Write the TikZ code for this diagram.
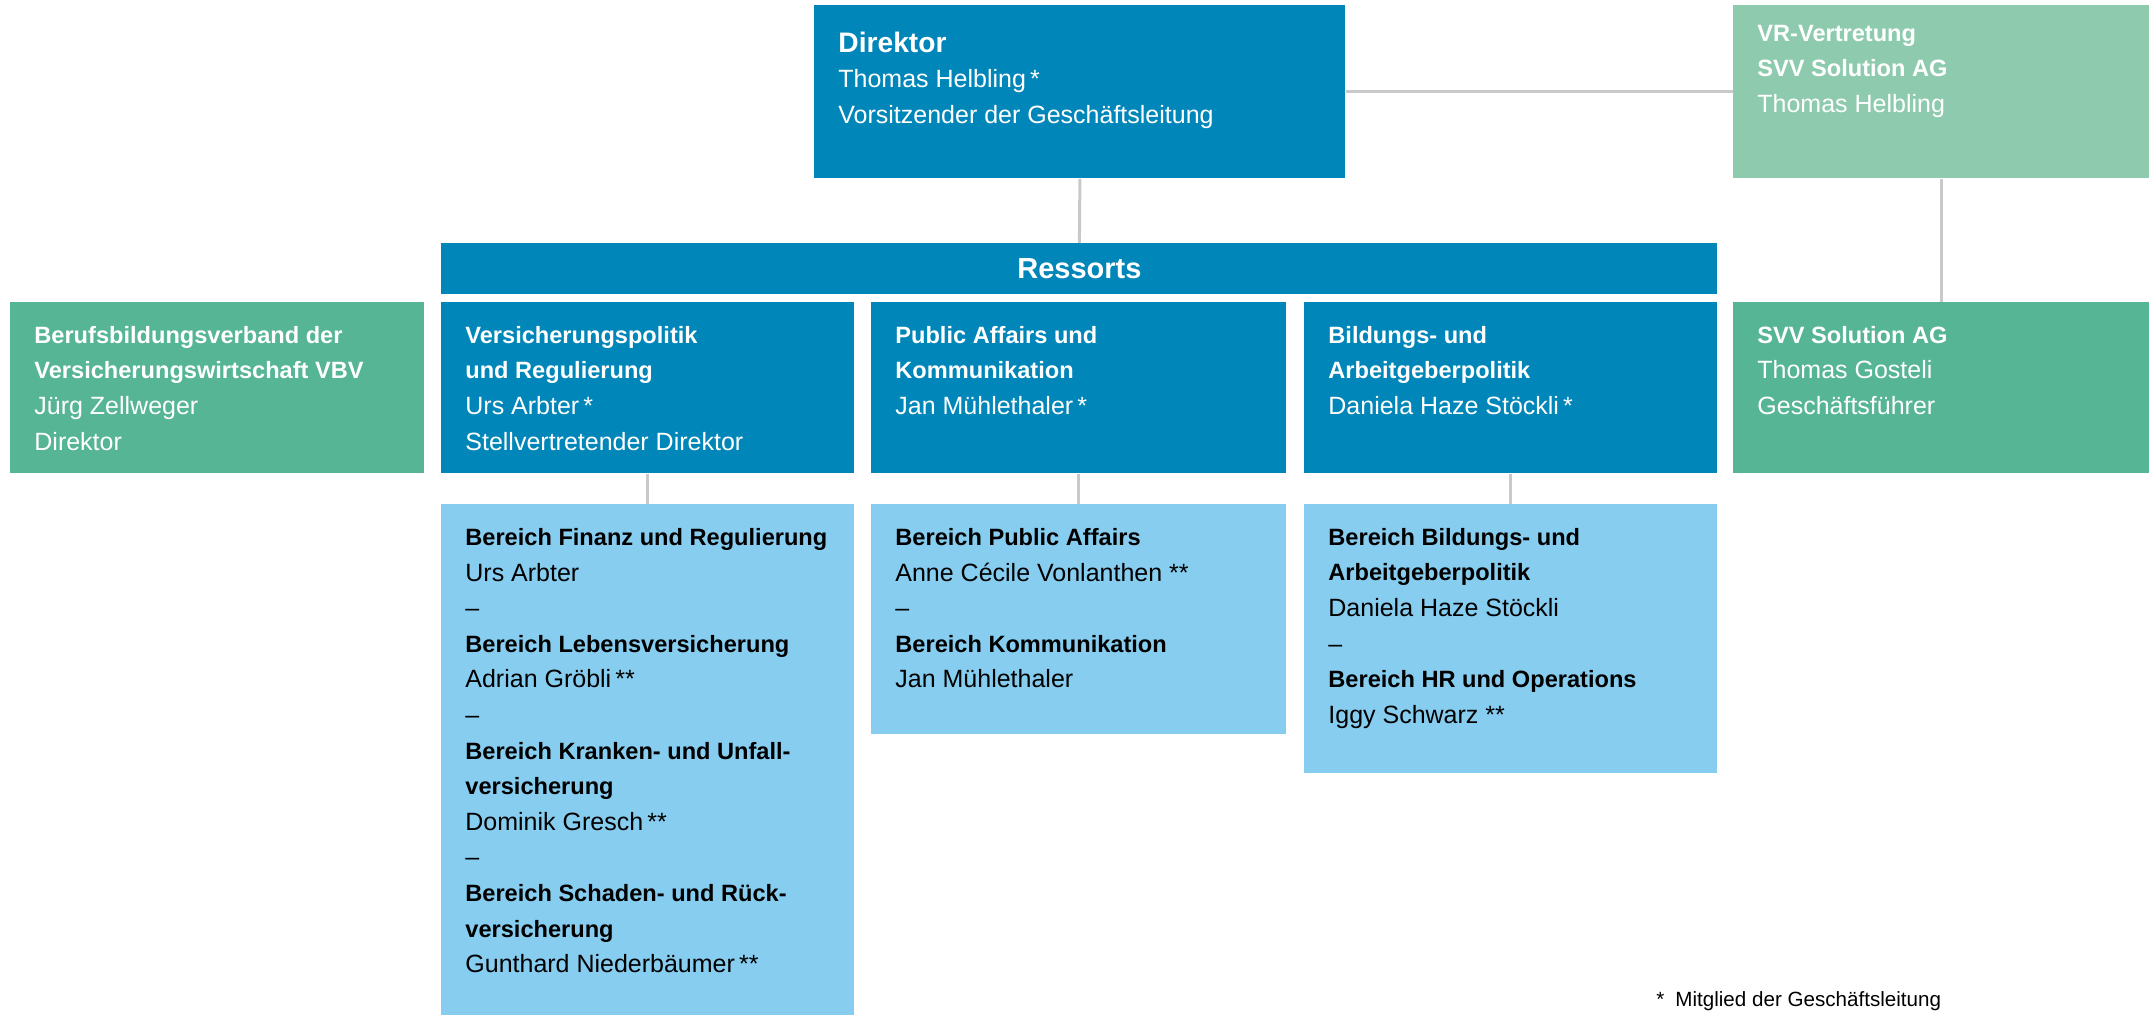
\documentclass[tikz,border=0pt]{standalone}
\usepackage{fontspec}
\setmainfont{Liberation Sans}
\usetikzlibrary{positioning}

\definecolor{svvblue}{HTML}{0086B8}
\definecolor{svvlight}{HTML}{86CDF0}
\definecolor{svvgreen}{HTML}{56B594}
\definecolor{svvpale}{HTML}{8ECBAE}
\definecolor{linegray}{HTML}{C9C9C9}

% one pixel of the layout
\newlength\pxu
\setlength\pxu{0.5pt}
% box content: width, height, first baseline (all in px), text
\newcommand{\boxtext}[4]{\parbox[c][#2\pxu][t]{\dimexpr#1\pxu-48\pxu\relax}{\raggedright\rule{0pt}{#3\pxu}#4}}
% bold heading line
\newcommand{\hd}[1]{{\fontsize{11.8}{17.8}\selectfont\bfseries #1}}

\tikzset{
	orgbox/.style={anchor=north west, inner xsep=12pt, inner ysep=0pt, font=\fontsize{12.5}{17.8}\selectfont},
	darkbox/.style={orgbox, fill=svvblue, text=white},
	lightbox/.style={orgbox, fill=svvlight, text=black},
	greenbox/.style={orgbox, fill=svvgreen, text=white},
	palebox/.style={orgbox, fill=svvpale, text=white},
	link/.style={draw=linegray, line width=1.5pt}
}

\begin{document}
\begin{tikzpicture}[x=0.5pt,y=-0.5pt]
	\useasboundingbox (0,0) rectangle (2152,1015);
	% top
	\node[darkbox] (dir) at (814,5) {\boxtext{531}{173}{47}{{\fontsize{14.1}{18}\selectfont\bfseries Direktor}\\Thomas Helbling\,*\\Vorsitzender der Geschäftsleitung}};
	\node[palebox] (vr) at (1733,5) {\boxtext{416}{173}{36}{\hd{VR-Vertretung}\\\hd{SVV Solution AG}\\Thomas Helbling}};
	\node[orgbox, fill=svvblue, text=white, inner xsep=0pt, minimum width=638pt, minimum height=25.5pt, font=\fontsize{14.5}{17}\selectfont\bfseries] (ress) at (441,243) {Ressorts};
	% row of boxes
	\node[greenbox] (vbv) at (10,302) {\boxtext{414}{171}{41}{\hd{Berufsbildungsverband der}\\\hd{Versicherungswirtschaft VBV}\\Jürg Zellweger\\Direktor}};
	\node[darkbox] (vpol) at (441,302) {\boxtext{413}{171}{41}{\hd{Versicherungspolitik}\\\hd{und Regulierung}\\Urs Arbter\,*\\Stellvertretender Direktor}};
	\node[darkbox] (pak) at (871,302) {\boxtext{415}{171}{41}{\hd{Public Affairs und}\\\hd{Kommunikation}\\Jan Mühlethaler\,*}};
	\node[darkbox] (bap) at (1304,302) {\boxtext{413}{171}{41}{\hd{Bildungs- und}\\\hd{Arbeitgeberpolitik}\\Daniela Haze Stöckli\,*}};
	\node[greenbox] (svv) at (1733,302) {\boxtext{416}{171}{41}{\hd{SVV Solution AG}\\Thomas Gosteli\\Geschäftsführer}};
	% bereiche
	\node[lightbox] (vpolsub) at (441,504) {\boxtext{413}{511}{41}{\hd{Bereich Finanz und Regulierung}\\Urs Arbter\\–\\\hd{Bereich Lebensversicherung}\\Adrian Gröbli\,**\\–\\\hd{Bereich Kranken- und Unfall-}\\\hd{versicherung}\\Dominik Gresch\,**\\–\\\hd{Bereich Schaden- und Rück-}\\\hd{versicherung}\\Gunthard Niederbäumer\,**}};
	\node[lightbox] (paksub) at (871,504) {\boxtext{415}{230}{41}{\hd{Bereich Public Affairs}\\Anne Cécile Vonlanthen **\\–\\\hd{Bereich Kommunikation}\\Jan Mühlethaler}};
	\node[lightbox] (bapsub) at (1304,504) {\boxtext{413}{269}{41}{\hd{Bereich Bildungs- und}\\\hd{Arbeitgeberpolitik}\\Daniela Haze Stöckli\\–\\\hd{Bereich HR und Operations}\\Iggy Schwarz **}};
	\node[anchor=base west, inner sep=0pt, font=\fontsize{10.3}{12}\selectfont] (note) at (1656,1006) {*\hspace{5.5pt}Mitglied der Geschäftsleitung};
	% connectors
	\draw[link] (dir.east) -- (vr.west);
	\draw[link] (dir.south) -- (ress.north);
	\draw[link] (vr.south) -- (svv.north);
	\draw[link] (vpol.south) -- (vpolsub.north);
	\draw[link] (pak.south) -- (paksub.north);
	\draw[link] (bap.south) -- (bapsub.north);
\end{tikzpicture}
\end{document}
